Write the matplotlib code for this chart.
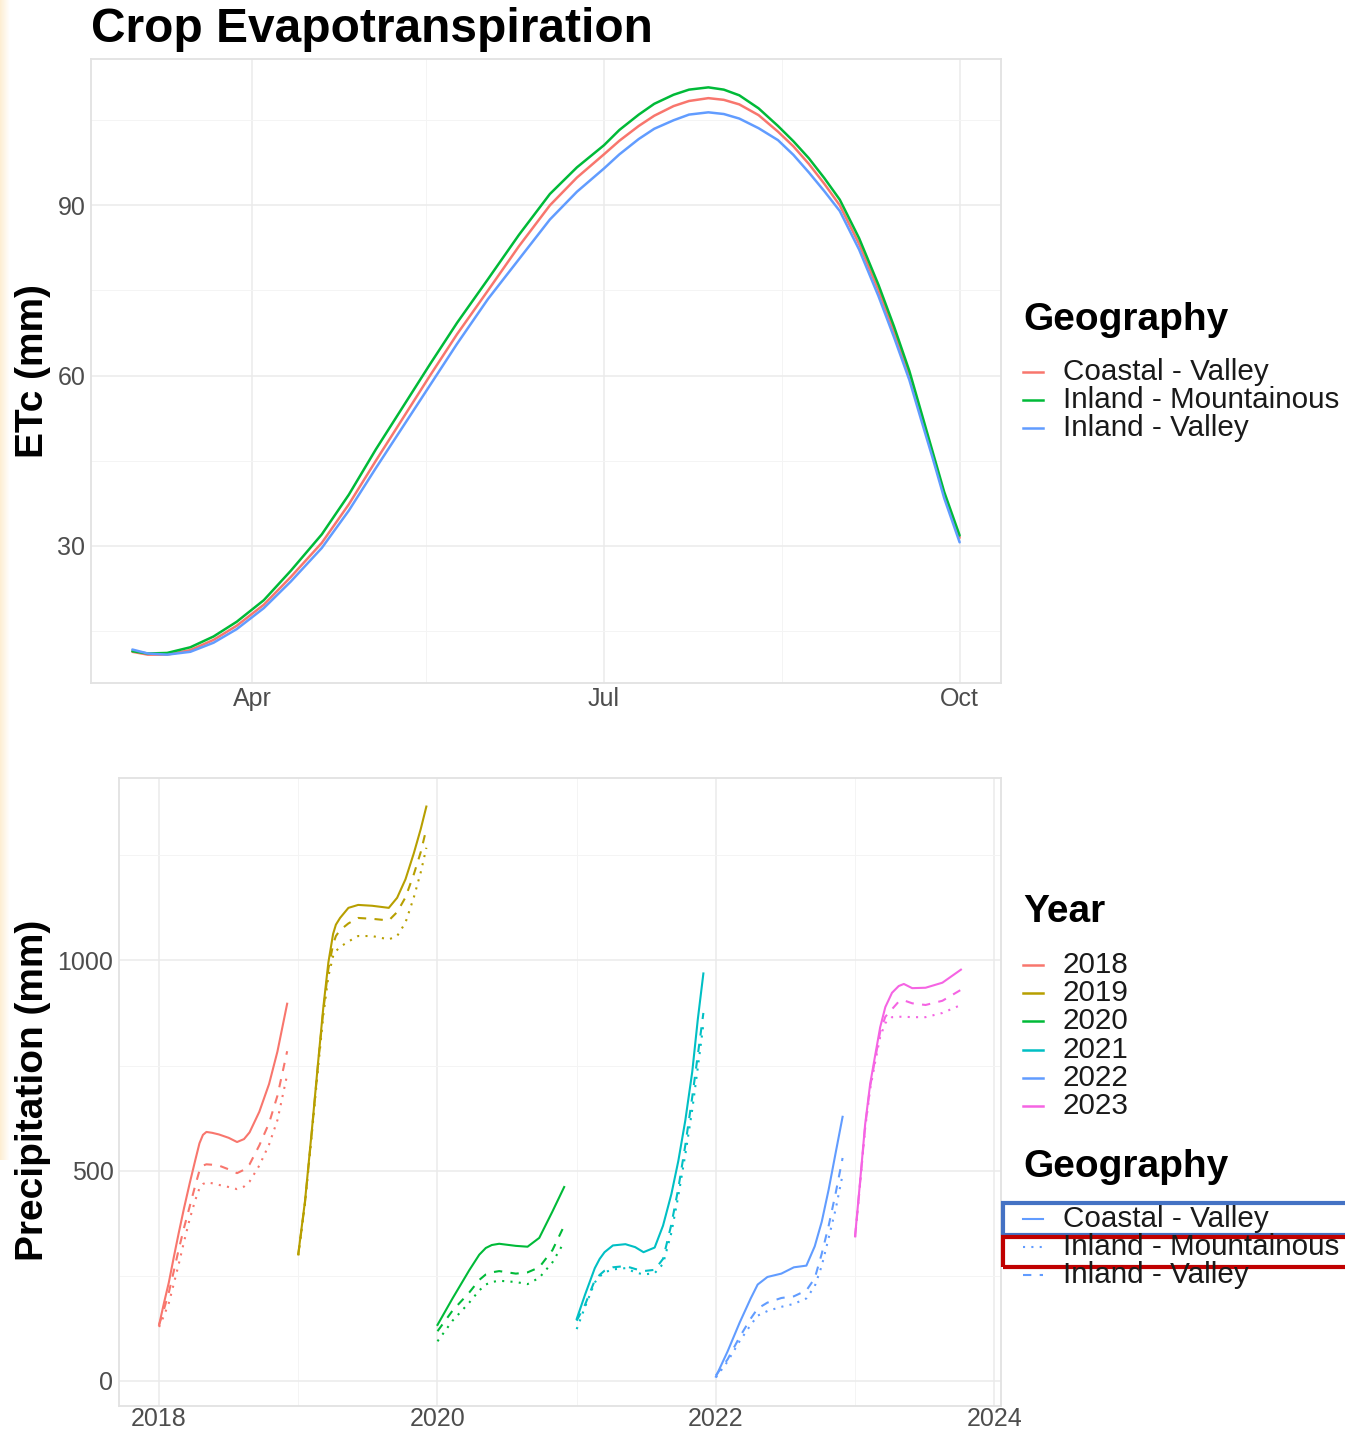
import matplotlib
matplotlib.use("Agg")
import matplotlib.pyplot as plt
import matplotlib.dates as mdates
import numpy as np
import pandas as pd
from matplotlib.lines import Line2D
from matplotlib.patches import Rectangle

plt.rcParams["font.family"] = ["Liberation Sans", "DejaVu Sans"]

W, H = 1345, 1432

# --- data -----------------------------------------------------------------
GEOGRAPHIES = ["Coastal - Valley", "Inland - Mountainous", "Inland - Valley"]
GEO_COLORS = ["#F8766D", "#00BA38", "#619CFF"]
GEO_STYLES = ["-", (0, (1, 3)), (0, (4, 4))]

ETC_DATES = ["2023-03-01", "2023-03-05", "2023-03-10", "2023-03-16", "2023-03-22",
             "2023-03-28", "2023-04-04", "2023-04-11", "2023-04-19", "2023-04-26",
             "2023-05-03", "2023-05-10", "2023-05-17", "2023-05-24", "2023-06-01",
             "2023-06-09", "2023-06-17", "2023-06-24", "2023-07-01", "2023-07-05",
             "2023-07-10", "2023-07-14", "2023-07-19", "2023-07-23", "2023-07-28",
             "2023-08-01", "2023-08-05", "2023-08-10", "2023-08-15", "2023-08-19",
             "2023-08-23", "2023-08-27", "2023-08-31", "2023-09-05", "2023-09-10",
             "2023-09-14", "2023-09-18", "2023-09-21", "2023-09-24", "2023-09-27",
             "2023-10-01"]
ETC_COASTAL_VALLEY = [11.3, 10.8, 10.8, 11.6, 13.4, 15.9, 19.6, 24.5, 30.5, 37.3,
                      45.0, 52.5, 60.0, 67.3, 75.0, 82.8, 90.0, 94.9, 99.0, 101.4,
                      104.0, 105.8, 107.5, 108.4, 108.9, 108.6, 107.8, 105.9, 103.0, 100.4,
                      97.3, 93.8, 90.0, 83.2, 75.0, 67.8, 60.0, 53.0, 46.0, 39.0, 31.4]
ETC_INLAND_MOUNTAINOUS = [11.4, 11.0, 11.1, 12.1, 14.0, 16.6, 20.4, 25.6, 32.0, 39.0,
                          47.0, 54.5, 62.0, 69.3, 77.0, 84.8, 92.0, 96.7, 100.6, 103.3,
                          106.0, 107.9, 109.5, 110.4, 110.8, 110.4, 109.4, 107.1, 104.0, 101.3,
                          98.3, 94.8, 91.0, 84.2, 76.0, 68.7, 60.8, 53.7, 46.6, 39.5, 31.8]
ETC_INLAND_VALLEY = [11.7, 11.0, 10.8, 11.3, 12.9, 15.3, 19.0, 23.7, 29.6, 36.2,
                     43.7, 51.0, 58.3, 65.6, 73.5, 80.5, 87.5, 92.4, 96.5, 99.0,
                     101.7, 103.5, 105.0, 106.0, 106.4, 106.1, 105.3, 103.6, 101.5, 98.9,
                     95.8, 92.5, 89.0, 82.2, 74.0, 66.8, 59.2, 52.3, 45.5, 38.4, 30.6]

YEARS = [2018, 2019, 2020, 2021, 2022, 2023]
YEAR_COLORS = ["#F8766D", "#B79F00", "#00BA38", "#00BFC4", "#619CFF", "#F564E3"]

# time as fraction of the year; precipitation in mm
P2018_T = [0, 0.035, 0.07, 0.105, 0.14, 0.18, 0.22, 0.26, 0.29, 0.315, 0.34, 0.38,
           0.43, 0.50, 0.56, 0.61, 0.65, 0.72, 0.79, 0.85, 0.92]
P2018_CV = [133, 185, 234, 293, 350, 412, 470, 525, 565, 585, 592, 590, 586, 578,
            568, 575, 591, 640, 706, 783, 897]
P2018_IM = [128, 155, 185, 230, 276, 332, 385, 430, 458, 468, 472, 470, 466, 461,
            456, 462, 474, 512, 562, 620, 728]
P2018_IV = [133, 170, 210, 260, 311, 365, 415, 465, 500, 512, 515, 514, 512, 503,
            494, 502, 515, 560, 613, 678, 784]

P2019_T = [0, 0.048, 0.096, 0.144, 0.18, 0.216, 0.25, 0.27, 0.30, 0.36, 0.43, 0.53,
           0.65, 0.71, 0.77, 0.83, 0.88, 0.92]
P2019_CV = [302, 427, 591, 764, 889, 995, 1063, 1085, 1101, 1125, 1132, 1130, 1125,
            1149, 1193, 1255, 1313, 1366]
P2019_IM = [298, 420, 582, 750, 870, 962, 1010, 1022, 1032, 1045, 1058, 1058, 1050,
            1058, 1090, 1150, 1210, 1268]
P2019_IV = [300, 424, 588, 760, 882, 980, 1038, 1058, 1072, 1088, 1101, 1099, 1095,
            1115, 1150, 1205, 1258, 1313]

P2020_T = [0, 0.108, 0.228, 0.30, 0.347, 0.39, 0.443, 0.563, 0.647, 0.731, 0.826, 0.91]
P2020_CV = [133, 196, 263, 300, 316, 323, 326, 321, 319, 340, 403, 461]
P2020_IM = [94, 143, 186, 215, 229, 235, 238, 235, 230, 245, 282, 330]
P2020_IV = [118, 167, 210, 240, 253, 258, 261, 255, 258, 270, 311, 369]

P2021_T = [0, 0.06, 0.13, 0.165, 0.20, 0.26, 0.35, 0.42, 0.48, 0.56, 0.62, 0.68,
           0.73, 0.78, 0.83, 0.87, 0.91]
P2021_CV = [147, 205, 268, 290, 306, 322, 325, 318, 306, 317, 369, 444, 523, 619,
            735, 860, 969]
P2021_IM = [123, 176, 234, 248, 258, 265, 268, 258, 253, 256, 278, 352, 440, 538,
            645, 745, 848]
P2021_IV = [143, 181, 239, 252, 262, 270, 273, 266, 261, 264, 290, 372, 458, 560,
            675, 775, 875]

P2022_T = [0, 0.084, 0.17, 0.25, 0.30, 0.37, 0.47, 0.56, 0.65, 0.71, 0.76, 0.81, 0.86, 0.91]
P2022_CV = [10, 70, 138, 196, 229, 247, 255, 270, 274, 320, 378, 455, 542, 628]
P2022_IM = [8, 46, 94, 133, 155, 166, 176, 183, 196, 225, 273, 340, 408, 490]
P2022_IV = [13, 51, 104, 148, 172, 186, 197, 201, 215, 244, 302, 369, 446, 530]

P2023_T = [0, 0.036, 0.072, 0.108, 0.144, 0.18, 0.217, 0.265, 0.313, 0.35, 0.41,
           0.506, 0.627, 0.76]
P2023_CV = [345, 475, 610, 706, 774, 841, 889, 923, 939, 944, 934, 935, 947, 978]
P2023_IM = [341, 468, 600, 694, 758, 818, 851, 865, 866, 866, 865, 865, 875, 894]
P2023_IV = [343, 472, 605, 700, 766, 830, 866, 884, 902, 905, 898, 894, 904, 930]

PRECIP = {
    2018: (P2018_T, [P2018_CV, P2018_IM, P2018_IV]),
    2019: (P2019_T, [P2019_CV, P2019_IM, P2019_IV]),
    2020: (P2020_T, [P2020_CV, P2020_IM, P2020_IV]),
    2021: (P2021_T, [P2021_CV, P2021_IM, P2021_IV]),
    2022: (P2022_T, [P2022_CV, P2022_IM, P2022_IV]),
    2023: (P2023_T, [P2023_CV, P2023_IM, P2023_IV]),
}

GRID_MAJOR = "#EBEBEB"
GRID_MINOR = "#F4F4F4"
TICK_COLOR = "#4D4D4D"


def px_rect(left, top, right, bottom):
    return [left / W, 1 - bottom / H, (right - left) / W, (bottom - top) / H]


def style_panel(ax, xpad):
    ax.grid(which="major", color=GRID_MAJOR, lw=1.1)
    ax.grid(which="minor", color=GRID_MINOR, lw=0.7)
    ax.set_axisbelow(True)
    ax.tick_params(which="both", length=0, labelsize=18, labelcolor=TICK_COLOR)
    ax.tick_params(axis="y", pad=4)
    ax.tick_params(axis="x", pad=xpad)
    for sp in ax.spines.values():
        sp.set_color("#E2E2E2")
        sp.set_linewidth(1.3)


def expand(lo, hi, frac=0.05):
    d = (hi - lo) * frac
    return lo - d, hi + d


fig = plt.figure(figsize=(W / 100, H / 100), dpi=100)

# faint orange strip on the left edge
strip = fig.add_axes(px_rect(0, 0, 10, 1160))
grad = np.linspace(0, 1, 50)[:, None]
base = np.array([253, 238, 210]) / 255
strip_rgb = (base[None, :] * (1 - grad) + grad)[None, :, :]
strip.imshow(strip_rgb, aspect="auto", extent=[0, 1, 0, 1])
strip.axis("off")

# --- top panel: crop evapotranspiration -----------------------------------
ax1 = fig.add_axes(px_rect(91, 59, 1001, 683))
etc_dates = pd.to_datetime(ETC_DATES)
etc_series = [ETC_COASTAL_VALLEY, ETC_INLAND_MOUNTAINOUS, ETC_INLAND_VALLEY]
for vals, col in zip(etc_series, GEO_COLORS):
    ax1.plot(etc_dates, vals, color=col, lw=1.8, solid_joinstyle="round",
             solid_capstyle="round")

x0, x1 = mdates.date2num(etc_dates.min()), mdates.date2num(etc_dates.max())
ax1.set_xlim(*expand(x0, x1))
all_etc = np.concatenate(etc_series)
ax1.set_ylim(*expand(all_etc.min(), all_etc.max()))
ax1.set_yticks([30, 60, 90])
ax1.set_yticks([15, 45, 75, 105], minor=True)
majors = pd.to_datetime(["2023-04-01", "2023-07-01", "2023-10-01"])
ax1.set_xticks(mdates.date2num(majors))
ax1.set_xticklabels(["Apr", "Jul", "Oct"])
ax1.set_xticks(mdates.date2num(pd.to_datetime(["2023-05-16", "2023-08-16"])), minor=True)
style_panel(ax1, xpad=3)

fig.text(91 / W, 1 - 42 / H, "Crop Evapotranspiration", fontsize=34.5,
         fontweight="bold", ha="left", va="baseline")
fig.text(33 / W, 1 - 371 / H, "ETc (mm)", fontsize=28, fontweight="bold",
         rotation=90, ha="center", va="center")

# --- bottom panel: precipitation ------------------------------------------
ax2 = fig.add_axes(px_rect(119, 778, 1001, 1406))
all_t, all_p = [], []
for yr, col in zip(YEARS, YEAR_COLORS):
    t, series = PRECIP[yr]
    tx = yr + np.asarray(t)
    for vals, ls in zip(series, GEO_STYLES):
        ax2.plot(tx, vals, color=col, lw=1.5, linestyle=ls, solid_joinstyle="round")
        all_p.extend(vals)
    all_t.extend(tx)
ax2.set_xlim(*expand(min(all_t), max(all_t)))
ax2.set_ylim(*expand(min(all_p), max(all_p)))
ax2.set_xticks([2018, 2020, 2022, 2024])
ax2.set_xticks([2019, 2021, 2023], minor=True)
ax2.set_yticks([0, 500, 1000])
ax2.set_yticks([250, 750, 1250], minor=True)
style_panel(ax2, xpad=0.5)

fig.text(33 / W, 1 - 1090 / H, "Precipitation (mm)", fontsize=28, fontweight="bold",
         rotation=90, ha="center", va="center")


# --- legends (drawn manually to mimic ggplot guides) ----------------------
def legend_block(title, title_y, labels, colors, styles, first_y, step=28.2, lw=1.8):
    fig.text(1023 / W, 1 - title_y / H, title, fontsize=28, fontweight="bold",
             ha="left", va="center")
    for i, (lab, col, ls) in enumerate(zip(labels, colors, styles)):
        y = first_y + i * step
        fig.add_artist(Line2D([1023 / W, 1043 / W], [1 - y / H, 1 - y / H],
                              color=col, lw=lw, linestyle=ls,
                              transform=fig.transFigure))
        fig.text(1063 / W, 1 - y / H, lab, fontsize=21.3, color="#1A1A1A",
                 ha="left", va="center")


legend_block("Geography", 320, GEOGRAPHIES, GEO_COLORS, ["-"] * 3, 372)
legend_block("Year", 912, [str(y) for y in YEARS], YEAR_COLORS, ["-"] * 6, 965)
legend_block("Geography", 1167, GEOGRAPHIES, ["#619CFF"] * 3, GEO_STYLES, 1219, lw=1.5)

# highlight boxes around two legend rows
fig.add_artist(Rectangle((1003 / W, 1 - 1235 / H), 360 / W, 32 / H, fill=False,
                         edgecolor="#4472C4", lw=3, transform=fig.transFigure))
fig.add_artist(Rectangle((1003 / W, 1 - 1267 / H), 360 / W, 30 / H, fill=False,
                         edgecolor="#C00000", lw=3, transform=fig.transFigure))

fig.savefig("out.png", dpi=100)
